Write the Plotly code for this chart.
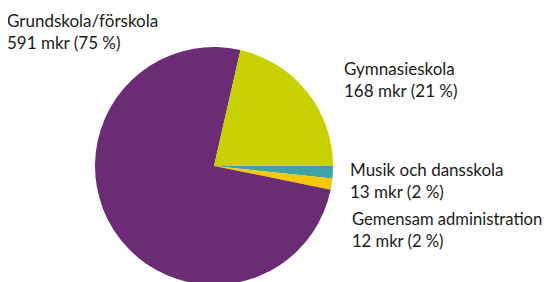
import plotly.graph_objects as go

# slice order as drawn clockwise, starting at 3 o'clock
categories = ["Musik och dansskola", "Gemensam administration", "Grundskola/förskola", "Gymnasieskola"]
values = [13, 12, 591, 168]
label_text = ["13 mkr (2 %)", "12 mkr (2 %)", "591 mkr (75 %)", "168 mkr (21 %)"]
colors = ["#3FA3A6", "#F5C800", "#6B2C75", "#C8D100"]

W, H = 545, 290  # page body has an 8px margin

cx, cy, r = 206, 158, 119  # pie centre/radius in figure pixels (from top-left)

fig = go.Figure(go.Pie(
    labels=categories, values=values, sort=False, direction="clockwise",
    rotation=90, marker=dict(colors=colors, line=dict(width=0)),
    textinfo="none", hoverinfo="label+value", showlegend=False,
    domain=dict(x=[(cx - r) / W, (cx + r) / W],
                y=[(H - cy - r) / H, (H - cy + r) / H]),
))

pos = {
    "Grundskola/förskola": (-3, 0, 17),
    "Gymnasieskola": (334, 48, 17),
    "Musik och dansskola": (340, 149, 17),
    "Gemensam administration": (342, 199, 16.6),
}
for cat, txt in zip(categories, label_text):
    x, y, fs = pos[cat]
    fig.add_annotation(
        x=x / W, y=1 - y / H, xref="paper", yref="paper",
        xanchor="left", yanchor="top", align="left", showarrow=False,
        text=f"{cat}<br>{txt}",
        font=dict(family="Lato", size=fs, color="#1a1a1a"),
    )

fig.update_layout(
    width=W, height=H, margin=dict(l=0, r=0, t=0, b=0),
    paper_bgcolor="white", plot_bgcolor="white",
)
fig.write_html("out.html")
